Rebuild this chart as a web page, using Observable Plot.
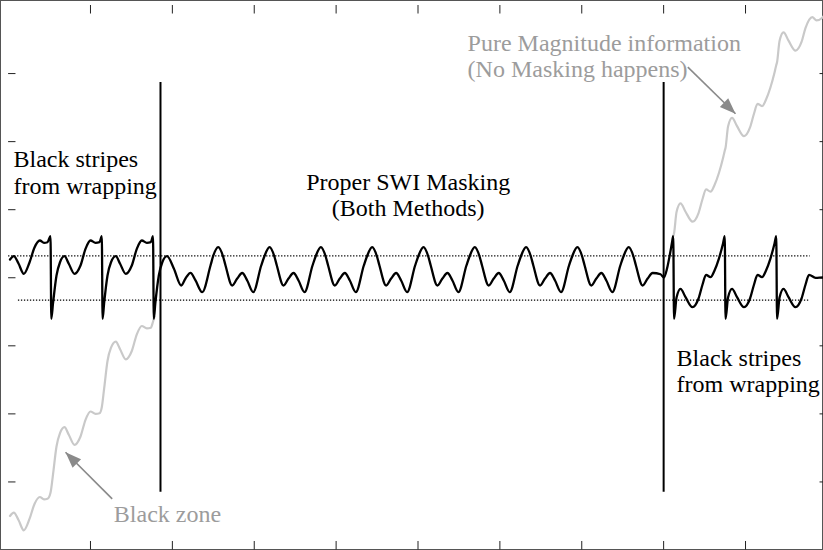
<!DOCTYPE html>
<html>
<head>
<meta charset="utf-8">
<script src="https://cdn.jsdelivr.net/npm/d3@7"></script>
<script src="https://cdn.jsdelivr.net/npm/@observablehq/plot@0.6"></script>
<style>
  html, body { margin: 0; padding: 0; background: #fff; overflow: hidden; }
  #chart { width: 823px; height: 550px; }
</style>
</head>
<body>
<div id="chart"></div>
<script>
// Wrapped phase (black), left part: sawtooth stripes from phase wrapping
const phaseLeft = [
  [0.0171, 4.268], [0.0635, 4.317], [0.1209, 4.209], [0.1856, 4.058], [0.2553, 4.224],
  [0.3163, 4.444], [0.3811, 4.547], [0.4324, 4.513], [0.4751, 4.522], [0.5118, 4.610],
  [0.5215, 3.397], [0.5423, 3.622], [0.5850, 4.033], [0.6278, 4.228], [0.6827, 4.317],
  [0.7353, 4.205], [0.8049, 4.058], [0.8782, 4.180], [0.9392, 4.425], [1.0003, 4.547],
  [1.0614, 4.513], [1.1102, 4.522], [1.1383, 4.610],
  [1.1481, 3.397], [1.1664, 3.622], [1.2079, 4.033], [1.2507, 4.228], [1.3093, 4.317],
  [1.3618, 4.205], [1.4314, 4.058], [1.5047, 4.180], [1.5658, 4.425], [1.6269, 4.547],
  [1.6879, 4.513], [1.7368, 4.522], [1.7637, 4.610],
  [1.7734, 3.397], [1.7918, 3.622], [1.8345, 4.033], [1.8773, 4.228]
];

// Properly masked phase between the two boundaries
const phaseMiddle = [
  [1.9347, 4.317], [2.0177, 4.136], [2.1081, 3.886], [2.1606, 3.989], [2.2217, 4.073], [2.2828, 3.960], [2.3646, 3.788], [2.4660, 4.180],
  [2.4989, 4.320], [2.5600, 4.449], [2.6211, 4.305], [2.6492, 4.180], [2.7310, 3.886], [2.7921, 3.989], [2.8531, 4.070], [2.9142, 3.960], [2.9875, 3.788], [3.0852, 4.180],
  [3.1255, 4.320], [3.1866, 4.449], [3.2477, 4.305], [3.2758, 4.180], [3.3576, 3.886], [3.4187, 3.989], [3.4797, 4.070], [3.5408, 3.960], [3.6141, 3.788], [3.7118, 4.180],
  [3.7520, 4.320], [3.8131, 4.449], [3.8742, 4.305], [3.9023, 4.180], [3.9841, 3.886], [4.0452, 3.989], [4.1062, 4.070], [4.1673, 3.960], [4.2406, 3.788], [4.3383, 4.180],
  [4.3786, 4.320], [4.4397, 4.449], [4.5008, 4.305], [4.5289, 4.180], [4.6107, 3.886], [4.6718, 3.989], [4.7328, 4.070], [4.7939, 3.960], [4.8672, 3.788], [4.9649, 4.180],
  [5.0051, 4.320], [5.0662, 4.449], [5.1273, 4.305], [5.1554, 4.180], [5.2372, 3.886], [5.2983, 3.989], [5.3593, 4.070], [5.4204, 3.960], [5.4937, 3.788], [5.5914, 4.180],
  [5.6317, 4.320], [5.6928, 4.449], [5.7539, 4.305], [5.7820, 4.180], [5.8638, 3.886], [5.9249, 3.989], [5.9859, 4.070], [6.0470, 3.960], [6.1203, 3.788], [6.2180, 4.180],
  [6.2583, 4.320], [6.3194, 4.449], [6.3805, 4.305], [6.4086, 4.180], [6.4904, 3.886], [6.5515, 3.989], [6.6125, 4.070], [6.6736, 3.960], [6.7469, 3.788], [6.8446, 4.180],
  [6.8848, 4.320], [6.9459, 4.449], [7.0070, 4.305], [7.0351, 4.180], [7.1169, 3.886], [7.1780, 3.989], [7.2390, 4.070], [7.3001, 3.960], [7.3734, 3.788], [7.4711, 4.180],
  [7.5114, 4.320], [7.5725, 4.449], [7.6336, 4.305], [7.6617, 4.180], [7.7435, 3.886], [7.8046, 3.989], [7.8656, 4.070], [7.9621, 4.051], [8.0024, 4.004]
];

// Wrapped phase (black), right part
const phaseRight = [
  [8.0415, 4.136], [8.0763, 4.342], [8.1001, 4.503], [8.1172, 4.610],
  [8.1270, 3.397], [8.1575, 3.710], [8.2064, 3.838], [8.2674, 3.714], [8.3529, 3.567], [8.4262, 3.695],
  [8.4751, 3.901], [8.5178, 4.043], [8.5728, 4.008], [8.6216, 4.107], [8.6741, 4.278], [8.7254, 4.503], [8.7462, 4.610],
  [8.7560, 3.397], [8.7865, 3.710], [8.8354, 3.838], [8.8964, 3.714], [8.9819, 3.567], [9.0552, 3.695],
  [9.1041, 3.901], [9.1468, 4.043], [9.2018, 4.008], [9.2506, 4.107], [9.3031, 4.278], [9.3544, 4.503], [9.3752, 4.610],
  [9.3850, 3.397], [9.4155, 3.710], [9.4644, 3.838], [9.5254, 3.714], [9.6109, 3.567], [9.6842, 3.695],
  [9.7331, 3.901], [9.7758, 4.043], [9.8552, 3.999], [9.9529, 4.004], [10.0, 4.004]
];

// Unmasked magnitude-only signal (grey), below the left stripes
const magnitudeLeft = [
  [0.0171, 0.500], [0.0635, 0.548], [0.1209, 0.441], [0.1856, 0.289], [0.2553, 0.456],
  [0.3163, 0.676], [0.3811, 0.779], [0.4324, 0.745], [0.4751, 0.754], [0.5118, 0.842],
  [0.5423, 1.109], [0.5850, 1.521], [0.6278, 1.716], [0.6827, 1.804], [0.7353, 1.693],
  [0.8049, 1.546], [0.8782, 1.668], [0.9392, 1.913], [1.0003, 2.035], [1.0614, 2.001],
  [1.1102, 2.010], [1.1383, 2.098], [1.1664, 2.366], [1.2079, 2.777], [1.2507, 2.972],
  [1.3093, 3.061], [1.3618, 2.949], [1.4314, 2.802], [1.5047, 2.924], [1.5658, 3.169],
  [1.6269, 3.291], [1.6879, 3.257], [1.7368, 3.266], [1.7637, 3.354], [1.7820, 3.431]
];

// Unmasked magnitude-only signal (grey), above the right stripes
const magnitudeRight = [
  [8.1172, 4.610], [8.1270, 4.653], [8.1575, 4.966], [8.2064, 5.094], [8.2674, 4.970],
  [8.3529, 4.824], [8.4262, 4.951], [8.4751, 5.157], [8.5178, 5.300], [8.5728, 5.264],
  [8.6216, 5.363], [8.6741, 5.535], [8.7254, 5.759], [8.7462, 5.867], [8.7560, 5.909],
  [8.7865, 6.222], [8.8354, 6.350], [8.8964, 6.227], [8.9819, 6.080], [9.0552, 6.208],
  [9.1041, 6.413], [9.1468, 6.556], [9.2018, 6.521], [9.2506, 6.619], [9.3031, 6.791],
  [9.3544, 7.016], [9.3752, 7.123], [9.3850, 7.166], [9.4155, 7.479], [9.4644, 7.606],
  [9.5254, 7.483], [9.6109, 7.336], [9.6842, 7.464], [9.7331, 7.670], [9.8150, 7.828],
  [9.8675, 7.780], [9.9408, 7.824], [10.0, 7.927]
];

// Mask thresholds (dotted) and mask boundaries (solid verticals)
const thresholds = [
  {y: 4.32, x1: 0.0, x2: 9.79},
  {y: 3.67, x1: 0.12, x2: 9.78}
];
const boundaries = [1.855, 8.0];
const boundaryY = [0.85, 6.87];

// Axis ticks (no labels)
const xTicks = [1, 2, 3, 4, 5, 6, 7, 8, 9];
const yTicks = [1, 2, 3, 4, 5, 6, 7];

// Annotations
const blackLabels = [
  {x: 0.06, y: 5.234, text: "Black stripes\nfrom wrapping", anchor: "start"},
  {x: 4.88, y: 4.900, text: "Proper SWI Masking\n(Both Methods)", anchor: "middle"},
  {x: 8.158, y: 2.318, text: "Black stripes\nfrom wrapping", anchor: "start"}
];
const greyLabels = [
  {x: 5.606, y: 6.947, text: "Pure Magnitude information\n(No Masking happens)"},
  {x: 1.285, y: 0.408, text: "Black zone"}
];
const arrows = [
  {x1: 8.2955, y1: 7.094, x2: 8.878, y2: 6.409, angle: 134},
  {x1: 1.2653, y1: 0.752, x2: 0.695, y2: 1.437, angle: -45}
];

const serif = "'Liberation Serif', 'Times New Roman', 'DejaVu Serif', serif";
const px = d => d[0], py = d => d[1];

const chart = Plot.plot({
  width: 823,
  height: 550,
  x: {domain: [0, 10], range: [8.1, 826.9], axis: null},
  y: {domain: [0, 8], range: [549.5, 5], axis: null},
  style: {background: "#fff"},
  marks: [
    Plot.frame({stroke: "#555", strokeWidth: 1}),
    // inward ticks on all four sides
    Plot.ruleX(xTicks, {x: d => d, y1: 0, y2: 0.125, stroke: "#222", strokeWidth: 1}),
    Plot.ruleX(xTicks, {x: d => d, y1: 8, y2: 7.875, stroke: "#222", strokeWidth: 1}),
    Plot.ruleY(yTicks, {y: d => d, x1: 0, x2: 0.09, stroke: "#222", strokeWidth: 1}),
    Plot.ruleY(yTicks, {y: d => d, x1: 10, x2: 9.91, stroke: "#222", strokeWidth: 1}),
    // grey magnitude curves
    Plot.line(magnitudeLeft, {x: px, y: py, curve: "monotone-x", stroke: "#c9c9c9", strokeWidth: 2.2}),
    Plot.line(magnitudeRight, {x: px, y: py, curve: "monotone-x", stroke: "#c9c9c9", strokeWidth: 2.2}),
    // dotted thresholds
    Plot.ruleY(thresholds, {y: "y", x1: "x1", x2: "x2", stroke: "#000", strokeWidth: 1.3, strokeDasharray: "1.3 1.7"}),
    // black phase curve
    Plot.line([...phaseLeft, ...phaseMiddle, ...phaseRight], {x: px, y: py, curve: "monotone-x", stroke: "#000", strokeWidth: 2.3}),
    // mask boundaries
    Plot.ruleX(boundaries, {x: d => d, y1: boundaryY[0], y2: boundaryY[1], stroke: "#000", strokeWidth: 2}),
    // arrows
    Plot.link(arrows, {x1: "x1", y1: "y1", x2: "x2", y2: "y2", stroke: "#8a8a8a", strokeWidth: 1.6}),
    Plot.vector(arrows, {x: "x2", y: "y2", rotate: "angle", length: 16, r: 6, shape: "spike", anchor: "end", fill: "#8a8a8a", stroke: "none"}),
    // labels
    Plot.text(blackLabels.filter(d => d.anchor === "start"), {x: "x", y: "y", text: "text", textAnchor: "start", lineAnchor: "bottom", lineHeight: 1.1, fontSize: 24, fontFamily: serif, fill: "#000"}),
    Plot.text(blackLabels.filter(d => d.anchor === "middle"), {x: "x", y: "y", text: "text", textAnchor: "middle", lineAnchor: "bottom", lineHeight: 1.1, fontSize: 24, fontFamily: serif, fill: "#000"}),
    Plot.text(greyLabels, {x: "x", y: "y", text: "text", textAnchor: "start", lineAnchor: "bottom", lineHeight: 1.1, fontSize: 24, fontFamily: serif, fill: "#9c9c9c"})
  ]
});
document.getElementById("chart").append(chart);
</script>
</body>
</html>
